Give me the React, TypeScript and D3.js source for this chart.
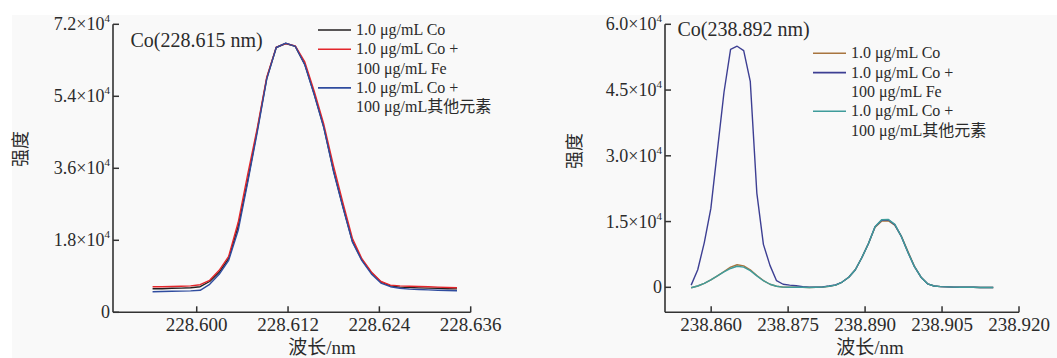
import React from "react";
import * as d3 from "d3";

// ---------- Left panel data: Co(228.615 nm) ----------
const leftStart = 228.5942;
const leftStep = 0.00125;
const leftCo = [5900,5900,6000,6050,6150,6400,7700,10000,13500,21500,33000,45500,58500,66200,67200,66500,62000,54500,46300,35600,26500,17800,13100,9900,7600,6600,6300,6200,6100,6050,6000,5900,5850];
const leftCoFe = [6400,6400,6450,6500,6600,6900,8000,10500,14000,22500,34500,46000,58800,66300,67200,66600,62600,55200,47000,36800,27500,18500,13400,10100,7700,6800,6600,6500,6450,6400,6300,6200,6150];
const leftCoOther = [5150,5200,5250,5300,5350,5500,7000,9500,13000,20500,32500,45000,58300,66200,67300,66500,61900,54300,46100,35400,26300,17600,12900,9600,7300,6400,6000,5800,5700,5600,5500,5450,5400];
const leftXTicks = [228.600, 228.612, 228.624, 228.636];
const leftYTicks = [0, 18000, 36000, 54000, 72000];
const leftYLabels = ["0", "1.8", "3.6", "5.4", "7.2"];

// ---------- Right panel data: Co(238.892 nm) ----------
const rightStart = 238.8561;
const rightStep = 0.00128;
const rightCo = [-100,300,900,1700,2600,3600,4600,5150,4900,4000,2700,1550,700,250,50,0,50,0,-50,0,50,250,500,1200,2300,4000,6800,10000,13700,15100,15200,14200,11700,8200,4800,2300,800,300,150,100,50,30,0,0,-50,-50,-50];
const rightCoFe = [500,4000,10200,18000,31300,44500,54300,55000,54000,47000,21500,9800,5000,1500,700,500,350,150,50,50,100,300,550,1200,2300,4000,6800,10000,13800,15300,15400,14300,11600,8000,4700,2300,800,300,150,100,50,30,0,0,-50,-50,-50];
const rightCoOther = [-100,300,900,1700,2600,3500,4300,4800,4600,3800,2600,1500,700,250,50,0,50,0,-50,0,50,250,500,1200,2300,4000,6800,10000,13800,15400,15500,14400,11600,8000,4700,2300,800,300,150,100,50,30,0,0,-50,-50,-50];
const rightXTicks = [238.860, 238.875, 238.890, 238.905, 238.920];
const rightYTicks = [0, 15000, 30000, 45000, 60000];
const rightYLabels = ["0", "1.5", "3.0", "4.5", "6.0"];

const legendLabels = [["1.0 μg/mL Co"], ["1.0 μg/mL Co +", "100 μg/mL Fe"], ["1.0 μg/mL Co +", "100 μg/mL其他元素"]];

const SERIF = "'Liberation Serif', 'Times New Roman', 'Noto Sans CJK SC', serif";
const CJK = "'Noto Sans CJK SC', sans-serif";
const TXT = "#2b2b2b";
const AX = "#333";

type PanelProps = {
  x0: number; x1: number; yTop: number; yBot: number;
  xDomain: [number, number]; yDomain: [number, number];
  start: number; step: number;
  series: number[][]; colors: string[];
  xTicks: number[]; yTicks: number[]; yLabels: string[];
  title: string; titleX: number; titleY: number;
  legX: number; legY: number;
  yLabelX: number; yLabelY: number; xLabelX: number;
};

function Panel(p: PanelProps) {
  const x = d3.scaleLinear().domain(p.xDomain).range([p.x0, p.x1]);
  const y = d3.scaleLinear().domain(p.yDomain).range([p.yBot, p.yTop]);
  const line = d3.line<number>().x((_, i) => x(p.start + i * p.step)).y((d) => y(d));
  let row = 0;
  return (
    <g>
      {p.series.map((s, k) => (
        <path key={k} d={line(s) || ""} fill="none" stroke={p.colors[k]} strokeWidth={1.4} strokeLinejoin="round" />
      ))}
      <line x1={p.x0} x2={p.x1} y1={p.yBot} y2={p.yBot} stroke={AX} strokeWidth={1.6} />
      <line x1={p.x0} x2={p.x0} y1={p.yTop} y2={p.yBot} stroke={AX} strokeWidth={1.6} />
      {p.xTicks.map((t) => (
        <g key={t}>
          <line x1={x(t)} x2={x(t)} y1={p.yBot} y2={p.yBot - 6} stroke={AX} strokeWidth={1.5} />
          <text x={x(t)} y={p.yBot + 19} textAnchor="middle" fontFamily={SERIF} fontSize={19} fill={TXT}>{t.toFixed(3)}</text>
        </g>
      ))}
      {p.yTicks.map((t, i) => (
        <g key={t}>
          <line x1={p.x0} x2={p.x0 + 6} y1={y(t)} y2={y(t)} stroke={AX} strokeWidth={1.5} />
          <text x={p.x0 - 3} y={y(t) + 6} textAnchor="end" fontFamily={SERIF} fontSize={18} fill={TXT}>
            {t === 0 ? "0" : (<>{p.yLabels[i] + "×10"}<tspan dy={-8} fontSize={11}>4</tspan></>)}
          </text>
        </g>
      ))}
      <text x={p.titleX} y={p.titleY} fontFamily={SERIF} fontSize={20} fill={TXT}>{p.title}</text>
      {legendLabels.map((lines, k) => {
        const r0 = row;
        row += lines.length;
        const ly = p.legY + r0 * 19.3;
        return (
          <g key={k}>
            <line x1={p.legX} x2={p.legX + 33} y1={ly} y2={ly} stroke={p.colors[k]} strokeWidth={1.6} />
            {lines.map((t, j) => (
              <text key={j} x={p.legX + 38} y={ly + 19.3 * j + 5} fontFamily={SERIF} fontSize={16} fill={TXT}>{t}</text>
            ))}
          </g>
        );
      })}
      <text transform={`translate(${p.yLabelX},${p.yLabelY}) rotate(-90)`} textAnchor="middle" dominantBaseline="central" fontFamily={CJK} fontSize={18} fill={TXT}>强度</text>
      <text x={p.xLabelX} y={354} textAnchor="middle" fontFamily={SERIF} fontSize={19} fill={TXT}>波长/nm</text>
    </g>
  );
}

export default function App() {
  return (
    <svg width={1057} height={358} style={{ position: "absolute", left: 0, top: 0, background: "#fff" }}>
      <rect x={12} y={15} width={1045} height={343} fill="#f9f9f9" />
      <Panel
        x0={113} x1={470.7} yTop={24.3} yBot={312.3}
        xDomain={[228.589, 228.636]} yDomain={[0, 72000]}
        start={leftStart} step={leftStep}
        series={[leftCo, leftCoFe, leftCoOther]} colors={["#231f20", "#e3262b", "#2f4c9f"]}
        xTicks={leftXTicks} yTicks={leftYTicks} yLabels={leftYLabels}
        title="Co(228.615 nm)" titleX={130.5} titleY={47}
        legX={318} legY={30}
        yLabelX={19} yLabelY={149} xLabelX={322}
      />
      <Panel
        x0={665} x1={1019} yTop={24.3} yBot={312.3}
        xDomain={[238.851, 238.920]} yDomain={[-5700, 60000]}
        start={rightStart} step={rightStep}
        series={[rightCo, rightCoFe, rightCoOther]} colors={["#a8753f", "#3d3f93", "#3f9c9b"]}
        xTicks={rightXTicks} yTicks={rightYTicks} yLabels={rightYLabels}
        title="Co(238.892 nm)" titleX={677.5} titleY={36}
        legX={813} legY={53.3}
        yLabelX={573} yLabelY={151} xLabelX={870}
      />
    </svg>
  );
}
